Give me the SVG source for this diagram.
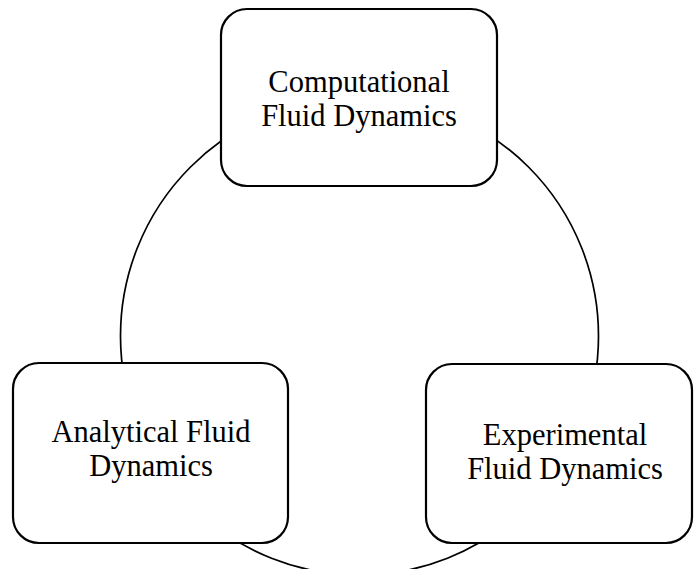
<svg xmlns="http://www.w3.org/2000/svg" width="694" height="569" viewBox="0 0 694 569">
<style>
.box{fill:#fff;stroke:#000;stroke-width:2.2}
.conn{fill:none;stroke:#000;stroke-width:1.7}
text{font-family:"Liberation Serif","Times New Roman",serif;font-size:30.5px;fill:#000;text-anchor:middle}
</style>
<rect width="694" height="569" fill="#fff"/>
<g id="connectors">
<circle class="conn" cx="359.5" cy="336" r="239"/>
</g>
<g id="cfd">
<rect class="box" x="221" y="9" width="276" height="177" rx="26"/>
<text x="359" y="92">Computational<tspan x="359" dy="34">Fluid Dynamics</tspan></text>
</g>
<g id="afd">
<rect class="box" x="13" y="363" width="275" height="180" rx="26"/>
<text x="151" y="442">Analytical Fluid<tspan x="151" dy="34">Dynamics</tspan></text>
</g>
<g id="efd">
<rect class="box" x="426" y="364" width="266" height="179" rx="26"/>
<text x="565" y="445">Experimental<tspan x="565" dy="34">Fluid Dynamics</tspan></text>
</g>
</svg>
